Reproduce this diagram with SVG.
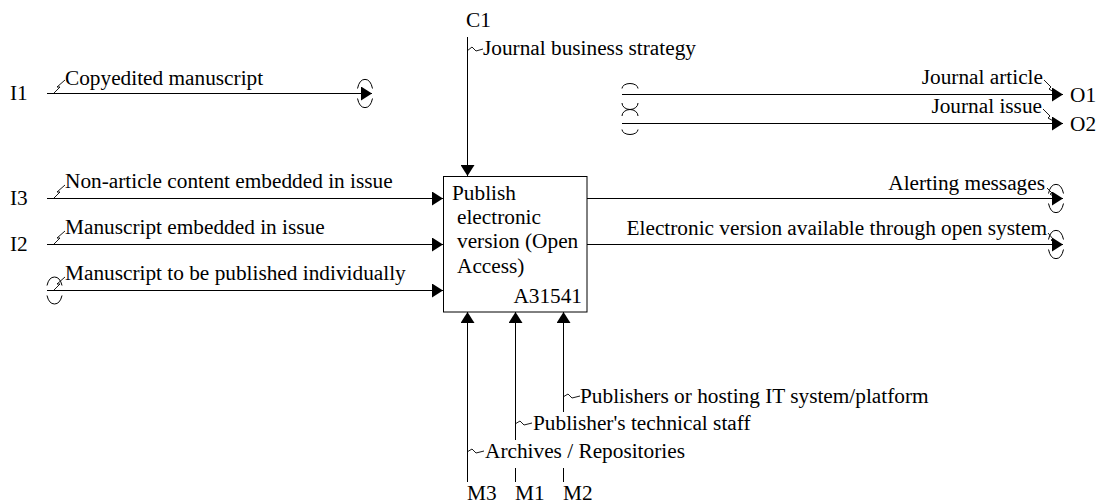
<svg xmlns="http://www.w3.org/2000/svg" width="1101" height="503" viewBox="0 0 1101 503" font-family="'Liberation Serif', 'Times New Roman', Times, serif">
<defs>
<marker id="ah" viewBox="0 0 11 14" markerWidth="11" markerHeight="14" refX="11" refY="7" orient="auto" markerUnits="userSpaceOnUse"><path d="M0,0 L11,7 L0,14 z" fill="#000"/></marker>
<style>
text{font-family:'Liberation Serif','Times New Roman',Times,serif;font-size:21.3px;fill:#000}
.c{fill:none;stroke:#000;stroke-width:1}
.a{marker-end:url(#ah)}
.s{fill:none;stroke:#000;stroke-width:0.9}
.t{fill:none;stroke:#000;stroke-width:1}
.e{text-anchor:end}
</style>
</defs>
<rect fill="#fff" width="1101" height="503"/>

<g id="connectors">
  <!-- I1 -->
  <path class="c a" d="M47,93.5 H372"/>
  <path class="t" d="M357.5,88.5 A8 14 0 0 1 372.5,88.5 M357.5,98.5 A8 14 0 0 0 372.5,98.5"/>
  <path class="s" d="M54,93 L60,87 L57,87 L65,80"/>
  <!-- I3 -->
  <path class="c a" d="M47,198.5 H443"/>
  <path class="s" d="M54,198 L60,192 L57,192 L65,185"/>
  <!-- I2 -->
  <path class="c a" d="M47,244.5 H443"/>
  <path class="s" d="M54,244 L60,238 L57,238 L65,231"/>
  <!-- Manuscript to be published individually -->
  <path class="c a" d="M47,290.5 H443"/>
  <path class="t" d="M47,285.5 A8 13 0 0 1 62,285.5 M47,295.5 A8 13 0 0 0 62,295.5"/>
  <path class="s" d="M54,290 L60,284 L57,284 L65,277"/>
  <!-- C1 -->
  <path class="c a" d="M467.5,37 V176"/>
  <path class="s" d="M467,51 L472,47 L476,51 L483,49"/>
  <!-- M3 -->
  <path class="c a" d="M467.5,482 V312"/>
  <path class="s" d="M467,452 L472,449 L476,453 L484,451"/>
  <!-- M1 -->
  <path class="c a" d="M515.5,440 V312"/>
  <path class="c" d="M515.5,468 V482"/>
  <path class="s" d="M515,424 L520,421 L524,425 L532,423"/>
  <!-- M2 -->
  <path class="c a" d="M563.5,412 V312"/>
  <path class="c" d="M563.5,468 V482"/>
  <path class="s" d="M563,397 L568,394 L572,398 L580,396"/>
  <!-- Alerting messages -->
  <path class="c a" d="M587,198.5 H1063"/>
  <path class="t" d="M1048.5,193.5 A8 14 0 0 1 1063.5,193.5 M1048.5,203.5 A8 14 0 0 0 1063.5,203.5"/>
  <path class="s" d="M1047,188 L1052,193 L1050,194 L1056,198"/>
  <!-- Electronic version -->
  <path class="c a" d="M587,244.5 H1063"/>
  <path class="t" d="M1048.5,239.5 A8 14 0 0 1 1063.5,239.5 M1048.5,249.5 A8 14 0 0 0 1063.5,249.5"/>
  <path class="s" d="M1048,233 L1053,239 L1051,240 L1056,244"/>
  <!-- O1 / O2 -->
  <path class="c a" d="M622,94.5 H1063"/>
  <path class="c a" d="M622,123.5 H1063"/>
  <path class="t" d="M622,88.5 A8 5 0 0 1 638,88.5 M622,103 A8 6.5 0 0 0 638,103 M622,116 A8 6.5 0 0 1 638,116 M622,129.5 A8 5 0 0 0 638,129.5"/>
  <path class="s" d="M1044,80 L1051,87 L1049,89 L1057,94"/>
  <path class="s" d="M1043,109 L1050,116 L1048,118 L1057,123"/>
</g>

<g id="node-A31541">
  <rect x="443.5" y="176.5" width="143.5" height="135.5" fill="#fff" stroke="#000" stroke-width="1"/>
  <text x="452" y="200">Publish</text>
  <text x="457" y="224">electronic</text>
  <text x="457" y="248">version (Open</text>
  <text x="457" y="273">Access)</text>
  <text class="e" x="582" y="303">A31541</text>
</g>

<g id="labels">
  <text x="10" y="100">I1</text>
  <text x="10" y="205">I3</text>
  <text x="10" y="251">I2</text>
  <text x="466" y="27">C1</text>
  <text x="1070" y="102">O1</text>
  <text x="1070" y="131">O2</text>
  <text x="467" y="500">M3</text>
  <text x="515" y="500">M1</text>
  <text x="563" y="500">M2</text>

  <text x="65" y="85">Copyedited manuscript</text>
  <text x="65" y="188">Non-article content embedded in issue</text>
  <text x="65" y="234">Manuscript embedded in issue</text>
  <text x="65" y="280">Manuscript to be published individually</text>
  <text x="483" y="55">Journal business strategy</text>
  <text class="e" x="1043" y="84">Journal article</text>
  <text class="e" x="1042" y="113">Journal issue</text>
  <text class="e" x="1045" y="190">Alerting messages</text>
  <text class="e" x="1047" y="235">Electronic version available through open system</text>
  <text x="580" y="403">Publishers or hosting IT system/platform</text>
  <text x="533" y="430">Publisher's technical staff</text>
  <text x="485" y="458">Archives / Repositories</text>
</g>
</svg>
